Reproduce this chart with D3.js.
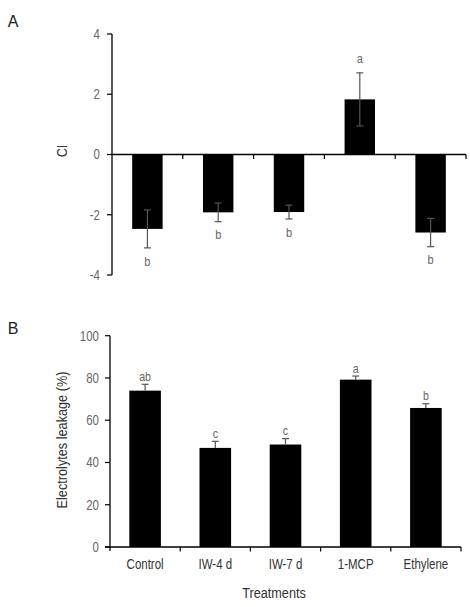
<!DOCTYPE html>
<html><head><meta charset="utf-8">
<script src="https://cdn.jsdelivr.net/npm/d3@7"></script>
<style>
body{margin:0;background:#fff;}
text{font-family:"Liberation Sans",Arial,sans-serif;}
</style></head>
<body><svg id="c" width="470" height="607"></svg>
<script>
const categories = ["Control","IW-4 d","IW-7 d","1-MCP","Ethylene"];
const ciValues = [-2.47,-1.92,-1.91,1.83,-2.59];
const ciErrors = [0.63,0.31,0.23,0.88,0.47];
const ciLetters = ["b","b","b","a","b"];
const elValues = [74.0,46.9,48.5,79.2,65.8];
const elErrors = [3.0,3.1,2.8,1.7,2.0];
const elLetters = ["ab","c","c","a","b"];
const ciTicks = [-4,-2,0,2,4];
const elTicks = [0,20,40,60,80,100];

const svg = d3.select("#c");
const axisCol = "#000", tickTextCol = "#666", errCol = "#555", labCol = "#333";
const SX = 0.82;
function ntext(g, x, y, str, size, col, anchor, rot){
  return g.append("text")
    .attr("transform",`translate(${x},${y})${rot?` rotate(${rot})`:""} scale(${SX},1)`)
    .attr("dy","0.35em").attr("text-anchor",anchor||"middle")
    .attr("font-size",size).attr("fill",col).text(str);
}

// ---------- Panel A ----------
const xA = d3.scaleBand().domain(categories).range([112,466]).paddingInner(0.57).paddingOuter(0.285);
const xAedges = d3.scaleLinear().domain([0,5]).range([112,466]);
const yA = d3.scaleLinear().domain([-4,4]).range([275,34]);
const gA = svg.append("g");

gA.append("line").attr("x1",112).attr("x2",112).attr("y1",yA(4)).attr("y2",yA(-4)).attr("stroke",axisCol).attr("stroke-width",1.3);
ciTicks.forEach(t=>{
  gA.append("line").attr("x1",107).attr("x2",112).attr("y1",yA(t)).attr("y2",yA(t)).attr("stroke",axisCol).attr("stroke-width",1.2);
  ntext(gA, 100, yA(t), t, 14, tickTextCol, "end");
});
gA.selectAll("rect").data(categories).join("rect")
  .attr("x",d=>xA(d)).attr("width",xA.bandwidth())
  .attr("y",(d,i)=>Math.min(yA(0),yA(ciValues[i])))
  .attr("height",(d,i)=>Math.abs(yA(ciValues[i])-yA(0)))
  .attr("fill","#000");
gA.append("line").attr("x1",112).attr("x2",466).attr("y1",yA(0)).attr("y2",yA(0)).attr("stroke",axisCol).attr("stroke-width",1.3);
d3.range(1,6).forEach(k=>{
  gA.append("line").attr("x1",xAedges(k)).attr("x2",xAedges(k)).attr("y1",yA(0)).attr("y2",yA(0)+4.5).attr("stroke",axisCol).attr("stroke-width",1.2);
});
categories.forEach((c,i)=>{
  const cx = xA(c)+xA.bandwidth()/2;
  const hi = yA(ciValues[i]+ciErrors[i]), lo = yA(ciValues[i]-ciErrors[i]);
  gA.append("line").attr("x1",cx).attr("x2",cx).attr("y1",hi).attr("y2",lo).attr("stroke",errCol).attr("stroke-width",1.2);
  [hi,lo].forEach(yy=>gA.append("line").attr("x1",cx-3.5).attr("x2",cx+3.5).attr("y1",yy).attr("y2",yy).attr("stroke",errCol).attr("stroke-width",1.2));
  const ly = ciValues[i] >= 0 ? hi-15 : lo+13;
  ntext(gA, cx, ly, ciLetters[i], 13.5, tickTextCol, "middle");
});
svg.append("text").attr("x",13).attr("y",21).attr("dy","0.35em").attr("text-anchor","middle").attr("font-size",16).attr("fill","#222").text("A");
ntext(svg, 62, 151, "CI", 15.5, labCol, "middle", -90);

// ---------- Panel B ----------
const xB = d3.scaleBand().domain(categories).range([110,461]).paddingInner(0.55).paddingOuter(0.275);
const xBedges = d3.scaleLinear().domain([0,5]).range([110,461]);
const yB = d3.scaleLinear().domain([0,100]).range([547,335.7]);
const gB = svg.append("g");
gB.selectAll("rect").data(categories).join("rect")
  .attr("x",d=>xB(d)).attr("width",xB.bandwidth())
  .attr("y",(d,i)=>yB(elValues[i])).attr("height",(d,i)=>yB(0)-yB(elValues[i]))
  .attr("fill","#000");
gB.append("line").attr("x1",110).attr("x2",110).attr("y1",yB(100)).attr("y2",yB(0)+4).attr("stroke",axisCol).attr("stroke-width",1.3);
gB.append("line").attr("x1",105).attr("x2",461).attr("y1",yB(0)).attr("y2",yB(0)).attr("stroke",axisCol).attr("stroke-width",1.3);
elTicks.forEach(t=>{
  gB.append("line").attr("x1",105).attr("x2",110).attr("y1",yB(t)).attr("y2",yB(t)).attr("stroke",axisCol).attr("stroke-width",1.2);
  ntext(gB, 99, yB(t), t, 14, tickTextCol, "end");
});
d3.range(1,6).forEach(k=>{
  gB.append("line").attr("x1",xBedges(k)).attr("x2",xBedges(k)).attr("y1",yB(0)).attr("y2",yB(0)+4.5).attr("stroke",axisCol).attr("stroke-width",1.2);
});
categories.forEach((c,i)=>{
  const cx = xB(c)+xB.bandwidth()/2;
  const hi = yB(elValues[i]+elErrors[i]);
  gB.append("line").attr("x1",cx).attr("x2",cx).attr("y1",hi).attr("y2",yB(elValues[i])).attr("stroke",errCol).attr("stroke-width",1.2);
  gB.append("line").attr("x1",cx-3.5).attr("x2",cx+3.5).attr("y1",hi).attr("y2",hi).attr("stroke",errCol).attr("stroke-width",1.2);
  ntext(gB, cx, hi-8, elLetters[i], 13, tickTextCol, "middle");
  ntext(gB, cx, 564, c, 14, labCol, "middle");
});
svg.append("text").attr("x",13).attr("y",328).attr("dy","0.35em").attr("text-anchor","middle").attr("font-size",16).attr("fill","#222").text("B");
ntext(svg, 62, 440, "Electrolytes leakage (%)", 15.5, labCol, "middle", -90);
ntext(svg, 274, 593, "Treatments", 15.5, labCol, "middle");
</script></body></html>
